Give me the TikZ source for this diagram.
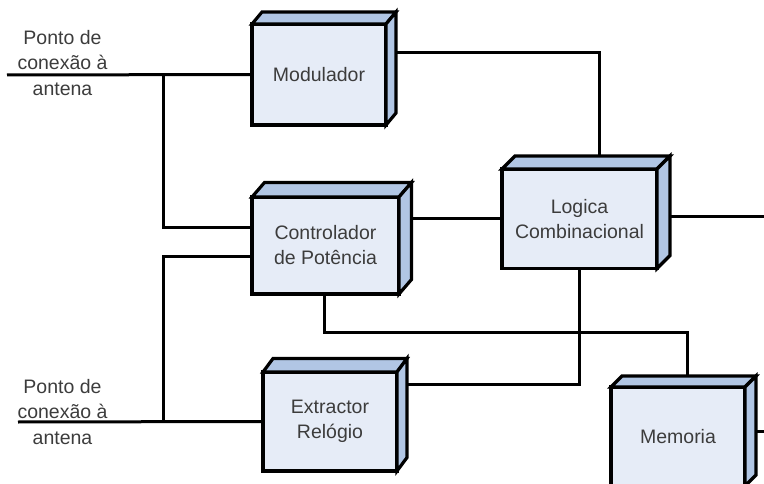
\documentclass[tikz,border=0pt]{standalone}
\usepackage{fontspec}
\setmainfont{Liberation Sans}
\usetikzlibrary{calc,backgrounds}

\definecolor{boxfront}{RGB}{230,236,247}
\definecolor{boxside}{RGB}{177,198,228}
\definecolor{labeltext}{RGB}{60,60,60}

\tikzset{
  blk/.style={draw, line width=3.2pt, fill=boxfront, outer sep=0pt, inner sep=0pt,
    align=center, text=labeltext, font=\fontsize{19.5}{25}\selectfont},
  blkside/.style={draw, line width=3.2pt, fill=boxside, line join=miter},
  wire/.style={draw, line width=3pt},
  antlabel/.style={align=center, text=labeltext, inner sep=0pt,
    font=\fontsize{19.5}{25.5}\selectfont}
}

% top and right faces of a 3D block: node name, depth dx, depth dy
\newcommand{\blockfaces}[3]{%
  \filldraw[blkside] (#1.north west) -- ++(#2,#3) -- ($(#1.north east)+(#2,#3)$)
    -- (#1.north east) -- cycle;
  \filldraw[blkside] (#1.north east) -- ($(#1.north east)+(#2,#3)$)
    -- ($(#1.south east)+(#2,#3)$) -- (#1.south east) -- cycle;
}

\begin{document}
\begin{tikzpicture}[x=1pt,y=-1pt]
\useasboundingbox (0,0) rectangle (764,484);
\clip (0,0) rectangle (764,484);

% blocks
\node[blk, minimum width=134, minimum height=101] (mod) at (319,74.5) {Modulador};
\blockfaces{mod}{10}{-12}
\node[blk, minimum width=147, minimum height=97] (ctl) at (325.5,245.5) {Controlador\\de Potência};
\blockfaces{ctl}{12.5}{-14.5}
\node[blk, minimum width=155, minimum height=99.5] (log) at (579.5,218.75) {Logica\\Combinacional};
\blockfaces{log}{13}{-13}
\node[blk, minimum width=134, minimum height=99] (ext) at (330,421.5) {Extractor\\Relógio};
\blockfaces{ext}{10}{-13.5}
\node[blk, minimum width=134, minimum height=99] (mem) at (678,436.5) {Memoria};
\blockfaces{mem}{11}{-11}

% antenna labels
\node[antlabel] (lab1) at (62.5,63) {Ponto de\\conexão à\\antena};
\node[antlabel] (lab2) at (62.5,412) {Ponto de\\conexão à\\antena};

% free ends and junctions
\coordinate (a1) at (7,75);
\coordinate (j1) at (163,75);
\coordinate (a2) at (18,422);
\coordinate (j2) at (163,422);
\coordinate (outR) at (764,216.75);
\coordinate (outM) at (764,431.5);

% connectors
\begin{scope}[on background layer]
  \draw[wire] (a1) -- (mod.west);
  \draw[wire] (j1) |- ($(ctl.west)+(0,-17.5)$);
  \draw[wire] ($(mod.east)+(0,-21.5)$) -| ($(log.north)+(20,0)$);
  \draw[wire] (log.west) -- (log.west -| ctl.east);
  \draw[wire] ($(log.east)+(0,-2)$) -- (outR);
  \draw[wire] ($(ctl.south)+(-1.5,0)$) -- ++(0,38) -| ($(mem.north)+(9,0)$);
  \draw[wire] (log.south) |- ($(ext.east)+(0,-37.5)$);
  \draw[wire] (a2) -- (ext.west);
  \draw[wire] (j2) |- ($(ctl.west)+(0,11.5)$);
  \draw[wire] ($(mem.east)+(0,-5)$) -- (outM);
\end{scope}
\end{tikzpicture}
\end{document}
